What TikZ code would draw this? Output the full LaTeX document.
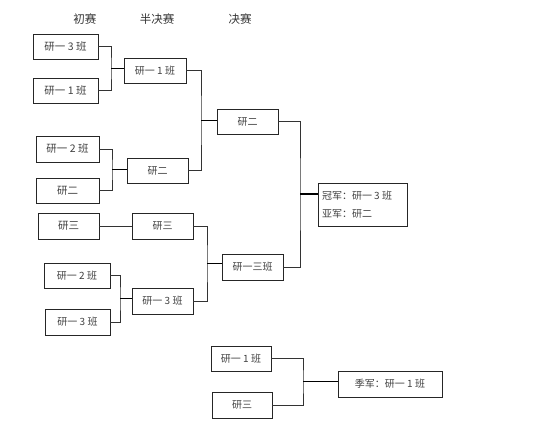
\documentclass[tikz,border=0pt]{standalone}
\usepackage{fontspec}
\setmainfont{Noto Sans CJK SC}
\usetikzlibrary{calc}
\definecolor{txt}{HTML}{404040}
\tikzset{
  box/.style={draw=black!85, line width=0.9pt, rectangle, inner sep=0pt, text=txt, font=\fontsize{10}{12}\selectfont},
  big/.style={font=\fontsize{10.5}{12}\selectfont},
  hd/.style={font=\fontsize{11.5}{13}\selectfont, text=black!80},
  br/.style={draw=black!80, line width=0.8pt},
  mid/.style={draw=black, line width=1.5pt},
}
\begin{document}
\begin{tikzpicture}[x=1pt,y=-1pt]
\useasboundingbox (0,0) rectangle (542,433);
% headings
\node[hd] (h1) at (85,19) {初赛};
\node[hd] (h2) at (157,19) {半决赛};
\node[hd] (h3) at (240,19) {决赛};
% first round
\node[box, big, minimum width=65, minimum height=25] (A) at (65.5,46.5) {研一 3 班};
\node[box, big, minimum width=65, minimum height=25] (B) at (65.5,90.5) {研一 1 班};
\node[box, big, minimum width=63, minimum height=26] (F) at (67.5,149) {研一 2 班};
\node[box, big, minimum width=63, minimum height=25] (G) at (67.5,190.5) {研二};
\node[box, big, minimum width=61, minimum height=26] (H) at (68.5,226) {研三};
\node[box, minimum width=66, minimum height=25] (M) at (77,275.5) {研一 2 班};
\node[box, minimum width=65, minimum height=26] (N) at (77.5,322) {研一 3 班};
% semis
\node[box, minimum width=62, minimum height=25] (C) at (155,70.5) {研一 1 班};
\node[box, minimum width=61, minimum height=25] (D) at (157.5,170.5) {研二};
\node[box, minimum width=61, minimum height=26] (I) at (162.5,226) {研三};
\node[box, minimum width=61, minimum height=26] (K) at (162.5,301) {研一 3 班};
% finals
\node[box, minimum width=61, minimum height=25] (E) at (247.5,121.5) {研二};
\node[box, minimum width=61, minimum height=26] (L) at (252.5,267) {研一三班};
\node[box, minimum width=89, minimum height=43, align=left, font=\fontsize{10}{18}\selectfont] (W) at (362.5,204.5) {冠军：研一 3 班\\亚军：研二\hspace*{3.1em}};
% bronze
\node[box, minimum width=60, minimum height=25] (P) at (241,358.5) {研一 1 班};
\node[box, minimum width=60, minimum height=26] (Q) at (242,405) {研三};
\node[box, minimum width=104, minimum height=26] (R) at (390,384) {季军：研一 1 班};
% brackets
\coordinate (ab) at (111,68.5);
\draw[br] (A.east) -| (ab) |- (B.east);
\draw[mid] (ab) -- (ab -| C.west);
\coordinate (fg) at (112,169.75);
\draw[br] (F.east) -| (fg) |- (G.east);
\draw[mid] (fg) -- (fg -| D.west);
\draw[br] (H.east) -- (I.west);
\coordinate (mn) at (120,298.75);
\draw[br] (M.east) -| (mn) |- (N.east);
\draw[mid] (mn) -- (mn -| K.west);
\coordinate (cd) at (201,120.5);
\draw[br] (C.east) -| (cd) |- (D.east);
\draw[mid] (cd) -- (cd -| E.west);
\coordinate (ik) at (207,263.5);
\draw[br] (I.east) -| (ik) |- (K.east);
\draw[mid] (ik) -- (ik -| L.west);
\coordinate (el) at (300,194.25);
\draw[br] (E.east) -| (el) |- (L.east);
\draw[mid] (el) -- (el -| W.west);
\coordinate (pq) at (303,381.75);
\draw[br] (P.east) -| (pq) |- (Q.east);
\draw[mid] (pq) -- (pq -| R.west);
\end{tikzpicture}
\end{document}
